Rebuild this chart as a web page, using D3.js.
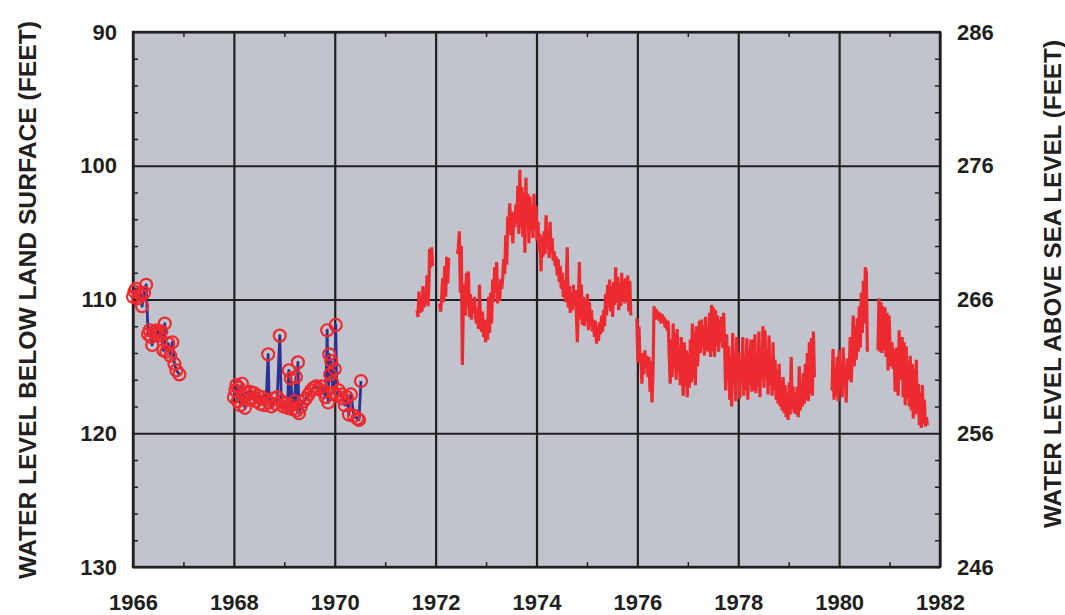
<!DOCTYPE html>
<html><head><meta charset="utf-8">
<script src="https://cdn.jsdelivr.net/npm/d3@7"></script>
<style>
html,body{margin:0;padding:0;background:#fff;}
svg{display:block;font-family:"Liberation Sans",Arial,Helvetica,sans-serif;font-weight:bold;}
</style></head><body>
<svg id="chart" width="1065" height="615"></svg>
<script>
// ---- data ----
const yearTicks = [1966,1968,1970,1972,1974,1976,1978,1980,1982];
const depthTicks = [90,100,110,120,130];
const elevTicks = [286,276,266,256,246];
const landSurface = 376;

// periodic measurements (year, depth below land surface, ft)
const periodic1966 = [
[1966.00,109.8],[1966.03,109.4],[1966.06,109.2],[1966.10,109.9],[1966.15,109.6],[1966.18,110.5],
[1966.22,109.5],[1966.26,108.9],[1966.30,112.6],[1966.33,112.3],[1966.36,112.8],[1966.38,113.4],
[1966.42,112.4],[1966.45,112.6],[1966.48,112.3],[1966.52,112.7],[1966.56,112.4],[1966.60,113.8],
[1966.63,111.8],[1966.66,113.9],[1966.70,113.3],[1966.74,114.2],[1966.78,113.2],[1966.82,114.8],
[1966.86,115.3],[1966.92,115.6]
];
const periodic1968 = [
[1968.00,117.3],[1968.03,116.8],[1968.05,116.4],[1968.08,117.6],[1968.10,116.6],[1968.13,117.9],
[1968.16,116.3],[1968.19,117.2],[1968.22,118.1],[1968.25,117.0],[1968.28,117.5],[1968.32,116.9],
[1968.36,117.4],[1968.40,117.0],[1968.44,117.6],[1968.48,117.2],[1968.52,117.8],[1968.56,117.3],
[1968.60,117.9],[1968.64,117.5],[1968.68,114.1],[1968.70,117.7],[1968.74,118.0],[1968.78,117.4],
[1968.82,117.8],[1968.86,117.3],[1968.91,112.7],[1968.94,117.6],[1968.98,118.0],[1969.02,117.8],
[1969.06,118.1],[1969.09,115.3],[1969.11,117.9],[1969.13,115.9],[1969.16,118.2],[1969.20,117.6],
[1969.23,115.8],[1969.25,118.3],[1969.27,114.7],[1969.29,118.5],[1969.33,118.0],[1969.38,117.6],
[1969.43,117.4],[1969.48,117.1],[1969.53,116.8],[1969.58,116.6],[1969.63,116.5],[1969.68,116.7],
[1969.73,116.5],[1969.78,116.9],[1969.82,117.3],[1969.85,112.3],[1969.87,117.7],[1969.89,114.1],
[1969.91,115.6],[1969.93,114.6],[1969.95,116.2],[1969.97,117.0],[1970.00,115.2],[1970.02,111.9],
[1970.04,117.2],[1970.08,116.8],[1970.12,117.1],[1970.16,117.4],[1970.20,117.9],[1970.24,117.3],
[1970.28,118.6],[1970.32,117.1],[1970.38,118.7],[1970.45,118.9],[1970.48,119.0],[1970.52,116.1]
];

// continuous record (year, depth); null depth = missing record
const continuous = [
[1971.63,110.8],[1971.65,111.3],[1971.67,109.4],[1971.69,111.0],[1971.71,109.8],[1971.73,110.9],[1971.75,109.0],[1971.77,110.6],[1971.79,109.5],[1971.81,110.3],[1971.83,108.2],[1971.85,110.5],[1971.87,108.6],[1971.88,106.2],[1971.90,107.6],[1971.92,106.1],[1971.94,107.5],
[1972.00,null],
[1972.08,110.3],[1972.10,110.9],[1972.12,109.8],[1972.14,108.4],[1972.16,110.2],[1972.18,107.5],[1972.20,109.8],[1972.22,106.8],[1972.24,108.8],[1972.26,106.9],
[1972.35,null],
[1972.43,106.6],[1972.45,106.2],[1972.47,104.9],[1972.49,109.5],[1972.51,106.0],[1972.53,114.9],[1972.55,110.2],
[1972.57,108.8],[1972.59,111.2],[1972.61,108.0],[1972.63,110.5],[1972.65,107.9],[1972.67,111.3],[1972.69,109.6],[1972.71,111.5],[1972.73,110.2],[1972.75,111.0],[1972.77,109.8],[1972.79,111.3],
[1972.81,111.8],[1972.83,110.6],[1972.85,112.2],[1972.87,108.9],[1972.89,111.9],[1972.91,112.4],[1972.93,110.9],[1972.95,112.8],[1972.97,111.5],[1972.99,113.2],[1973.01,112.0],[1973.03,113.0],[1973.05,109.8],[1973.07,112.5],[1973.09,109.5],[1973.11,111.8],
[1973.13,108.5],[1973.15,110.2],[1973.17,107.6],[1973.19,109.5],[1973.21,107.2],[1973.23,110.3],[1973.25,108.8],[1973.27,110.1],[1973.29,108.5],[1973.31,109.2],
[1973.33,108.4],[1973.35,107.0],[1973.37,108.1],[1973.39,105.2],[1973.41,107.4],
[1973.43,103.8],[1973.45,104.5],[1973.47,102.8],[1973.49,105.2],[1973.51,103.4],[1973.53,105.8],[1973.55,103.6],[1973.57,104.6],[1973.59,102.9],[1973.61,104.3],
[1973.63,101.5],[1973.65,105.1],[1973.67,100.3],[1973.69,104.6],[1973.71,101.6],[1973.73,105.3],[1973.75,102.0],[1973.77,106.5],[1973.79,100.9],[1973.81,104.4],[1973.83,102.1],[1973.85,105.8],[1973.87,102.3],[1973.89,104.9],[1973.91,103.0],[1973.93,105.4],[1973.95,102.1],[1973.97,104.8],
[1973.99,103.0],[1974.01,105.6],[1974.03,104.2],[1974.05,106.4],[1974.07,105.1],[1974.09,107.9],[1974.11,105.3],[1974.13,106.8],[1974.15,104.9],[1974.17,106.6],
[1974.19,103.7],[1974.21,106.0],[1974.23,104.8],[1974.25,106.9],[1974.27,104.2],[1974.29,106.5],[1974.31,105.4],[1974.33,107.1],
[1974.35,106.4],[1974.37,107.5],[1974.39,106.8],[1974.41,108.2],[1974.43,107.0],[1974.45,108.7],[1974.47,107.5],[1974.49,109.2],[1974.51,108.0],[1974.53,109.8],[1974.55,108.6],[1974.57,110.2],
[1974.59,108.7],[1974.61,106.1],[1974.63,110.6],[1974.65,109.0],[1974.67,111.0],[1974.69,109.5],[1974.71,110.8],[1974.73,108.9],[1974.75,110.5],[1974.77,109.3],[1974.79,111.1],
[1974.81,113.2],[1974.83,110.4],[1974.85,107.2],[1974.87,111.5],[1974.89,108.9],[1974.91,111.9],[1974.93,109.8],[1974.95,112.0],[1974.97,110.0],[1974.99,111.7],[1975.01,109.6],[1975.03,112.3],[1975.05,110.2],[1975.07,112.0],[1975.09,110.8],[1975.11,112.4],
[1975.13,111.5],[1975.15,112.8],[1975.17,111.6],[1975.19,113.3],[1975.21,112.0],[1975.23,113.1],[1975.25,111.7],[1975.27,112.6],[1975.29,111.2],[1975.31,112.4],[1975.33,110.8],[1975.35,112.0],
[1975.37,109.6],[1975.39,111.2],[1975.41,108.9],[1975.43,110.6],[1975.45,108.5],[1975.47,110.9],[1975.49,109.0],[1975.51,111.3],[1975.53,108.7],[1975.55,110.4],[1975.57,107.6],[1975.59,110.2],[1975.61,108.3],[1975.63,110.8],[1975.65,108.8],[1975.67,110.5],[1975.69,108.0],[1975.71,109.9],[1975.73,108.6],[1975.75,110.3],[1975.77,108.4],[1975.79,110.0],[1975.81,108.2],[1975.83,110.9],[1975.85,108.6],[1975.87,111.2],
[1975.93,null],
[1975.99,111.4],[1976.01,114.7],[1976.03,112.0],[1976.05,114.4],
[1976.07,114.4],[1976.09,116.3],[1976.11,114.0],[1976.13,115.6],[1976.15,113.8],[1976.17,114.9],[1976.19,114.2],[1976.21,115.8],[1976.23,114.3],[1976.25,116.9],[1976.27,114.6],[1976.29,117.7],[1976.31,115.5],
[1976.33,110.5],[1976.35,111.2],[1976.37,110.7],[1976.39,111.5],[1976.41,110.9],[1976.43,111.6],[1976.45,111.0],[1976.47,111.8],[1976.49,111.1],[1976.51,111.7],[1976.53,111.3],[1976.55,112.1],[1976.57,111.5],[1976.59,112.3],[1976.61,111.6],[1976.63,114.0],
[1976.65,116.3],[1976.67,113.0],[1976.69,115.8],[1976.71,111.8],[1976.73,115.2],[1976.75,112.5],[1976.77,116.0],[1976.79,112.2],[1976.81,115.4],[1976.83,113.5],[1976.85,116.4],[1976.87,112.8],[1976.89,115.9],
[1976.91,117.2],[1976.93,113.2],[1976.95,116.5],[1976.97,113.8],[1976.99,117.3],[1977.01,114.0],[1977.03,116.6],[1977.05,113.0],[1977.07,116.2],
[1977.09,111.8],[1977.11,115.9],[1977.13,112.4],[1977.15,116.4],[1977.17,112.0],[1977.19,115.0],
[1977.21,113.8],[1977.23,111.6],[1977.25,114.0],[1977.27,111.5],[1977.29,113.6],[1977.31,112.0],[1977.33,114.2],[1977.35,111.3],[1977.37,113.8],[1977.39,112.2],[1977.41,113.9],[1977.43,111.0],[1977.45,114.3],[1977.47,110.4],
[1977.49,113.9],[1977.51,110.6],[1977.53,114.3],[1977.55,110.8],[1977.57,113.5],[1977.59,111.2],[1977.61,113.9],[1977.63,111.5],[1977.65,113.2],[1977.67,111.3],[1977.69,113.6],[1977.71,111.0],[1977.73,113.4],
[1977.75,116.8],[1977.77,112.6],[1977.79,116.0],[1977.81,113.5],[1977.83,117.5],[1977.85,114.2],[1977.87,118.0],[1977.89,112.5],[1977.91,116.2],[1977.93,114.0],[1977.95,117.6],[1977.97,112.8],[1977.99,115.5],
[1978.01,114.0],[1978.03,117.4],[1978.05,114.6],[1978.07,116.0],[1978.09,112.8],[1978.11,117.2],[1978.13,114.3],[1978.15,116.8],[1978.17,112.9],[1978.19,117.5],[1978.21,113.8],[1978.23,116.4],[1978.25,113.0],[1978.27,116.9],
[1978.29,113.0],[1978.31,116.8],[1978.33,112.6],[1978.35,117.0],[1978.37,114.2],[1978.39,116.5],[1978.41,112.4],[1978.43,117.3],[1978.45,113.5],[1978.47,116.0],[1978.49,112.0],[1978.51,116.6],[1978.53,112.3],[1978.55,115.8],[1978.57,113.8],[1978.59,117.1],[1978.61,112.7],[1978.63,116.4],[1978.65,114.3],[1978.67,117.2],[1978.69,113.2],[1978.71,116.8],[1978.73,114.5],
[1978.75,117.5],[1978.77,115.3],[1978.79,117.8],[1978.81,114.8],[1978.83,118.0],[1978.85,116.0],[1978.87,118.3],[1978.89,115.8],[1978.91,118.5],[1978.93,116.4],[1978.95,118.8],[1978.97,117.0],[1978.99,119.0],[1979.01,116.2],[1979.03,118.6],[1979.05,114.3],[1979.07,118.2],[1979.09,116.5],[1979.11,118.5],
[1979.13,117.0],[1979.15,118.6],[1979.17,116.5],[1979.19,118.8],[1979.21,115.0],[1979.23,118.3],[1979.25,116.8],[1979.27,118.0],[1979.29,115.5],[1979.31,117.8],[1979.33,114.8],[1979.35,117.5],[1979.37,114.0],[1979.39,117.6],[1979.41,113.2],[1979.43,117.0],[1979.45,112.9],[1979.47,117.2],[1979.49,112.4],[1979.51,115.8],
[1979.60,null],
[1979.86,116.8],[1979.88,113.7],[1979.90,117.5],[1979.92,115.2],[1979.94,117.2],[1979.96,114.3],[1979.98,117.6],[1980.00,113.8],[1980.02,116.3],[1980.04,114.8],[1980.06,117.3],[1980.08,113.6],[1980.10,116.4],[1980.12,115.0],[1980.14,117.7],[1980.16,114.4],[1980.18,116.0],
[1980.20,115.5],[1980.22,112.8],[1980.24,116.2],[1980.26,113.9],[1980.28,111.2],[1980.30,115.0],[1980.32,112.0],[1980.34,114.5],[1980.36,111.4],[1980.38,113.9],[1980.40,110.5],[1980.42,113.6],
[1980.44,109.5],[1980.46,112.5],[1980.48,108.6],[1980.50,111.8],[1980.52,107.6],[1980.54,108.0],[1980.56,113.9],
[1980.62,null],
[1980.77,113.8],[1980.79,109.9],[1980.81,113.9],[1980.83,110.2],[1980.85,114.0],[1980.87,110.5],[1980.89,113.8],[1980.91,110.6],[1980.93,114.3],[1980.95,111.0],[1980.97,115.3],[1980.99,111.2],[1981.01,113.6],
[1981.03,115.0],[1981.05,113.2],[1981.07,115.2],[1981.09,113.8],[1981.11,116.9],[1981.13,113.6],[1981.15,115.4],
[1981.17,117.2],[1981.19,112.3],[1981.21,116.0],[1981.23,114.5],[1981.25,112.8],[1981.27,117.3],[1981.29,113.2],[1981.31,117.9],[1981.33,113.5],[1981.35,117.4],[1981.37,114.6],[1981.39,118.0],
[1981.41,114.2],[1981.43,118.3],[1981.45,114.8],[1981.47,118.9],[1981.49,115.2],[1981.51,118.6],[1981.53,114.5],
[1981.55,118.5],[1981.57,116.3],[1981.59,119.4],[1981.61,117.0],[1981.63,119.6],[1981.65,116.4],[1981.67,119.3],[1981.69,117.5],[1981.71,119.5],[1981.73,118.8],[1981.75,119.4]
];

// ---- layout ----
const M = {left:133, top:32, right:940, bottom:567};
const RED = "#ec2a2f", BLUE = "#2e3192", INK = "#231f20", BG = "#c1c4cc";
const svg = d3.select("#chart");

const x = d3.scaleLinear().domain([1966,1982]).range([M.left, M.right]);
const y = d3.scaleLinear().domain([90,130]).range([M.top, M.bottom]);
const yR = d3.scaleLinear().domain([landSurface-90, landSurface-130]).range([M.top, M.bottom]);

svg.append("rect").attr("x",M.left).attr("y",M.top)
  .attr("width",M.right-M.left).attr("height",M.bottom-M.top).attr("fill",BG);

// minor ticks (inside)
const g = svg.append("g");
const W = M.right-M.left, H = M.bottom-M.top;
const minorYears = d3.range(1967,1982,2);
g.append("g").attr("transform",`translate(0,${M.bottom})`)
  .call(d3.axisBottom(x).tickValues(minorYears).tickSize(-5).tickFormat(""))
  .call(a=>a.select(".domain").remove());
g.append("g").attr("transform",`translate(0,${M.top})`)
  .call(d3.axisTop(x).tickValues(minorYears).tickSize(-5).tickFormat(""))
  .call(a=>a.select(".domain").remove());
const minorDepth = d3.range(92,130,2).filter(v=>v%10!==0);
g.append("g").attr("transform",`translate(${M.left},0)`)
  .call(d3.axisLeft(y).tickValues(minorDepth).tickSize(-5).tickFormat(""))
  .call(a=>a.select(".domain").remove());
g.append("g").attr("transform",`translate(${M.right},0)`)
  .call(d3.axisRight(y).tickValues(minorDepth).tickSize(-5).tickFormat(""))
  .call(a=>a.select(".domain").remove());
g.selectAll(".tick line").attr("stroke",INK).attr("stroke-width",1.5);

// grid
const grid = svg.append("g");
grid.append("g").attr("transform",`translate(0,${M.bottom})`)
  .call(d3.axisBottom(x).tickValues(yearTicks).tickSize(-H).tickFormat(""))
  .call(a=>a.select(".domain").remove());
grid.append("g").attr("transform",`translate(${M.left},0)`)
  .call(d3.axisLeft(y).tickValues(depthTicks).tickSize(-W).tickFormat(""))
  .call(a=>a.select(".domain").remove());
grid.selectAll(".tick line").attr("stroke",INK).attr("stroke-width",2.2);

// frame
svg.append("rect").attr("x",M.left).attr("y",M.top).attr("width",W).attr("height",H)
  .attr("fill","none").attr("stroke",INK).attr("stroke-width",2.4);

// tick labels
const labelFont = 22;
const styleLabels = sel => sel.selectAll("text").attr("font-size",labelFont).attr("font-weight","bold")
  .attr("fill",INK).attr("font-family","'Liberation Sans',Arial,sans-serif");
svg.append("g").attr("transform",`translate(0,${M.bottom})`)
  .call(d3.axisBottom(x).tickValues(yearTicks).tickSize(0).tickPadding(27).tickFormat(d3.format("d")))
  .call(a=>a.select(".domain").remove()).call(styleLabels);
svg.append("g").attr("transform",`translate(${M.left},0)`)
  .call(d3.axisLeft(y).tickValues(depthTicks).tickSize(0).tickPadding(16).tickFormat(d3.format("d")))
  .call(a=>a.select(".domain").remove()).call(styleLabels);
svg.append("g").attr("transform",`translate(${M.right},0)`)
  .call(d3.axisRight(yR).tickValues(elevTicks).tickSize(0).tickPadding(17).tickFormat(d3.format("d")))
  .call(a=>a.select(".domain").remove()).call(styleLabels);

// axis titles
svg.append("text").attr("transform",`translate(36,300) rotate(-90)`)
  .attr("text-anchor","middle").attr("font-size",23.5).attr("fill",INK)
  .attr("textLength",558).attr("lengthAdjust","spacingAndGlyphs")
  .text("WATER LEVEL BELOW LAND SURFACE (FEET)");
svg.append("text").attr("transform",`translate(1061,284) rotate(-90)`)
  .attr("text-anchor","middle").attr("font-size",23.5).attr("fill",INK)
  .attr("textLength",488).attr("lengthAdjust","spacingAndGlyphs")
  .text("WATER LEVEL ABOVE SEA LEVEL (FEET)");

// data
const line = d3.line().defined(d=>d[1]!==null).x(d=>x(d[0])).y(d=>y(d[1]));
const plot = svg.append("g");
[periodic1966, periodic1968].forEach(s=>{
  plot.append("path").datum(s).attr("d",line).attr("fill","none")
    .attr("stroke",BLUE).attr("stroke-width",2.8).attr("stroke-linejoin","round");
});
plot.append("path").datum(continuous).attr("d",line).attr("fill","none")
  .attr("stroke",RED).attr("stroke-width",3.2).attr("stroke-linejoin","miter").attr("stroke-miterlimit",3);
[periodic1966, periodic1968].forEach(s=>{
  plot.append("g").selectAll("circle").data(s).join("circle")
    .attr("cx",d=>x(d[0])).attr("cy",d=>y(d[1])).attr("r",6)
    .attr("fill","none").attr("stroke",RED).attr("stroke-width",2.2);
});
</script>
</body></html>
